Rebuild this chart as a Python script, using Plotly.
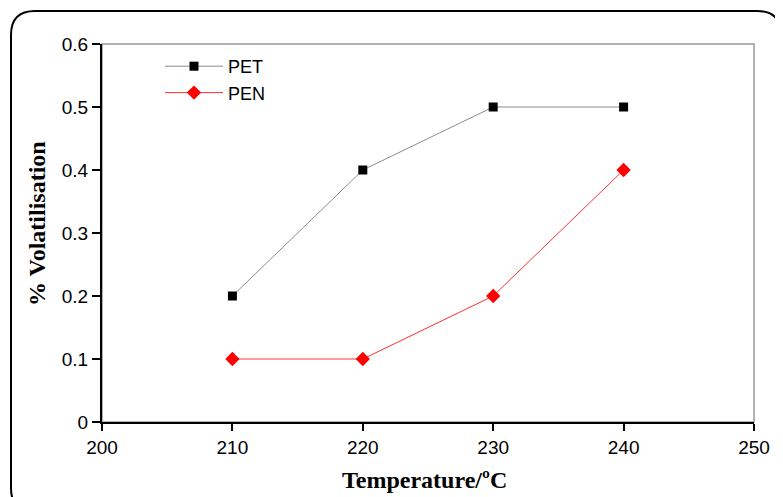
import plotly.graph_objects as go

temperature = [210, 220, 230, 240]
pet_values = [0.2, 0.4, 0.5, 0.5]
pen_values = [0.1, 0.1, 0.2, 0.4]
x_ticks = [200, 210, 220, 230, 240, 250]
y_ticks = [0, 0.1, 0.2, 0.3, 0.4, 0.5, 0.6]
x_title = "Temperature/ºC"
y_title = "% Volatilisation"

OFF = 8  # page body margin
W, H = 783 - OFF, 497 - OFF
ML, MR, MT, MB = 102 - OFF, 29, 44 - OFF, 75
PW, PH = W - ML - MR, H - MT - MB

def px2paper(x, y):
    # x, y in page pixels
    x -= OFF
    y -= OFF
    return (x - ML) / PW, (H - MB - y) / PH

fig = go.Figure()
fig.add_trace(go.Scatter(
    x=temperature, y=pet_values, name="PET", mode="lines+markers",
    line=dict(color="#8c8c8c", width=1),
    marker=dict(symbol="square", size=9, color="black"),
))
fig.add_trace(go.Scatter(
    x=temperature, y=pen_values, name="PEN", mode="lines+markers",
    line=dict(color="#ff3030", width=1),
    marker=dict(symbol="diamond", size=11, color="#ff0000"),
))

# rounded outer border
x0, y0, x1, y1, r = 11, 11, 781, 512, 24
def P(x, y):
    a, b = px2paper(x, y)
    return f"{a:.5f},{b:.5f}"
path = (f"M {P(x0+r, y0)} L {P(x1-r, y0)} Q {P(x1, y0)} {P(x1, y0+r)} "
        f"L {P(x1, y1-r)} Q {P(x1, y1)} {P(x1-r, y1)} "
        f"L {P(x0+r, y1)} Q {P(x0, y1)} {P(x0, y1-r)} "
        f"L {P(x0, y0+r)} Q {P(x0, y0)} {P(x0+r, y0)} Z")
fig.add_shape(type="path", xref="paper", yref="paper", path=path,
              line=dict(color="black", width=2), layer="below")
# gray plot frame
fig.add_shape(type="rect", xref="paper", yref="paper", x0=0, y0=0, x1=1, y1=1,
              line=dict(color="#999999", width=1.5), layer="below")

tick_font = dict(family="Liberation Sans, Arial", size=19, color="black")
title_font = dict(family="Liberation Serif, Times New Roman", size=24, color="black")

# axis titles as annotations
tx, ty = px2paper(424, 480)
fig.add_annotation(text=f"<b>{x_title}</b>", xref="paper", yref="paper", x=tx, y=ty,
                   xanchor="center", yanchor="middle", showarrow=False, font=title_font)
tx, ty = px2paper(37, 224)
fig.add_annotation(text=f"<b>{y_title}</b>", xref="paper", yref="paper", x=tx, y=ty,
                   xanchor="center", yanchor="middle", showarrow=False, font=title_font,
                   textangle=-90)

lx, ly = px2paper(160, 48)
fig.update_layout(
    width=W, height=H,
    margin=dict(l=ML, r=MR, t=MT, b=MB, autoexpand=False),
    paper_bgcolor="white", plot_bgcolor="white",
    showlegend=True,
    legend=dict(x=lx, y=ly, xanchor="left", yanchor="top",
                font=dict(family="Liberation Sans, Arial", size=18, color="black"),
                bgcolor="rgba(0,0,0,0)", itemwidth=58, tracegroupgap=0),
    xaxis=dict(range=[200, 250], tickvals=x_ticks, ticktext=[str(v) for v in x_ticks],
               showgrid=False, zeroline=False, showline=True, linecolor="black", linewidth=2,
               ticks="outside", ticklen=7, tickwidth=1.5, tickcolor="black",
               tickfont=tick_font, automargin=False),
    yaxis=dict(range=[0, 0.6], tickvals=y_ticks, ticktext=["0", "0.1", "0.2", "0.3", "0.4", "0.5", "0.6"],
               showgrid=False, zeroline=False, showline=True, linecolor="black", linewidth=2,
               ticks="outside", ticklen=8, tickwidth=1.5, tickcolor="black",
               tickfont=tick_font, automargin=False),
)

fig.write_html("out.html")
